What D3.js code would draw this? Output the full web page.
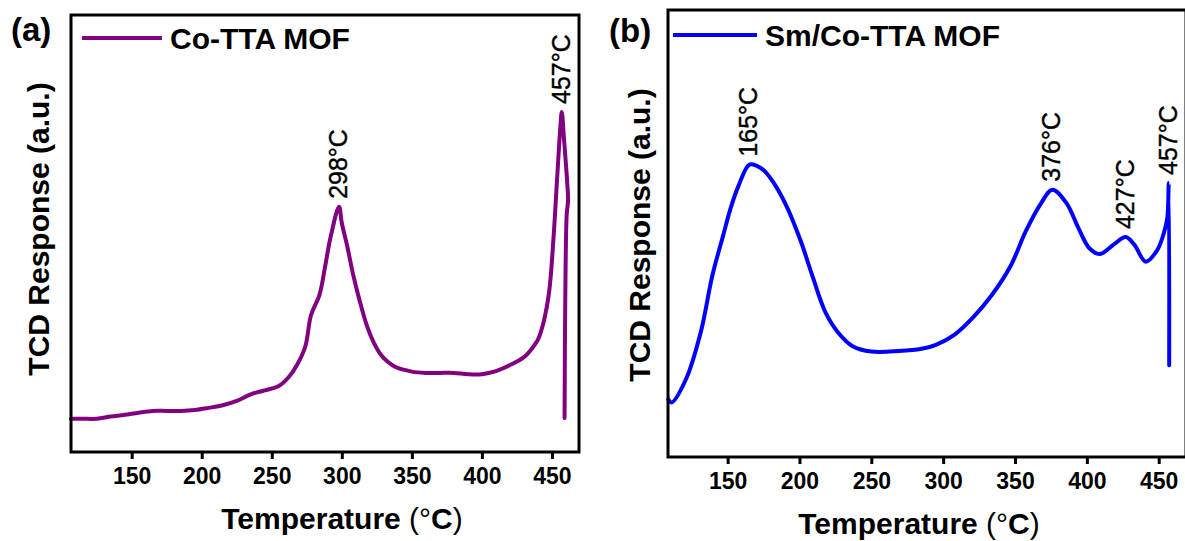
<!DOCTYPE html>
<html>
<head>
<meta charset="utf-8">
<script src="https://cdn.jsdelivr.net/npm/d3@7"></script>
<style>
  html, body { margin: 0; padding: 0; background: #fff; }
  svg { display: block; font-family: "Liberation Sans", Arial, sans-serif; }
</style>
</head>
<body>
<svg id="chart" width="1185" height="541"></svg>
<script>
// H2-TPD profile of Co-TTA MOF: temperature (°C) and TCD response (a.u.)
const tempA = [106.7, 115, 125, 135, 145, 155, 165, 175, 185, 195, 205, 215, 225, 235, 245, 255,
  262, 268, 274, 278, 284, 288, 292, 298, 300, 304, 308, 313, 318, 323, 328, 333, 338,
  350, 360, 370, 380, 390, 400, 410, 420, 430, 436, 440, 444, 448, 451, 454, 456, 457,
  458.5, 460, 461, 461.5, 460.5, 459.5, 459];
const respA = [7.6, 7.6, 7.6, 8.1, 8.5, 9.0, 9.4, 9.4, 9.4, 9.6, 10.1, 10.7, 11.7, 13.2, 14.1, 15.1,
  17.1, 19.9, 24.2, 31.3, 35.9, 42.3, 49.2, 56.1, 52.4, 46.9, 40.7, 34.3, 28.8, 24.9, 22.2, 20.6, 19.5,
  18.4, 18.1, 18.1, 18.1, 17.8, 17.8, 18.5, 19.9, 21.7, 23.8, 25.7, 29.7, 36.7, 48.5, 64.3, 74.4, 77.8,
  72.0, 65.7, 61.1, 57.7, 54.2, 34.8, 7.8];
const peaksA = [298, 457];

// H2-TPD profile of Sm/Co-TTA MOF
const tempB = [108.7, 111, 121, 131.5, 139.3, 147.1, 152.3, 157.5, 165, 170, 175.6, 183.5, 191.3,
  201, 209, 218, 227, 237, 250, 269, 285, 295, 308, 321, 334, 347, 357.6, 368, 376,
  386, 394, 401.8, 409, 418.6, 427, 433, 441, 449, 453.5, 456, 457, 457.3];
const respB = [12.9, 12.2, 17.4, 28.2, 40.5, 49.8, 55.9, 60.6, 65.4, 65.2, 64.0, 60.6, 55.9,
  48.2, 40.5, 32.4, 27.8, 24.8, 23.6, 23.7, 24.2, 25.1, 27.4, 31.3, 36.3, 42.8, 50.6, 56.7, 59.8,
  56.7, 51.3, 46.7, 45.4, 47.5, 49.2, 47.5, 43.7, 46.3, 50.0, 53.5, 61.3, 20.5];
const peaksB = [165, 376, 427, 457];

const xTicks = [150, 200, 250, 300, 350, 400, 450];
const seriesNames = ["Co-TTA MOF", "Sm/Co-TTA MOF"];
const seriesColors = ["#800080", "#0000ff"];
const panelTags = ["(a)", "(b)"];
const xTitleText = "Temperature";
const yTitleText = "TCD Response (a.u.)";

const svg = d3.select("#chart");
svg.append("rect").attr("width", 1185).attr("height", 541).attr("fill", "#fff");

const panels = [
  { temps: tempA, resp: respA, peaks: peaksA, name: seriesNames[0], color: seriesColors[0], tag: panelTags[0],
    xDomain: [106.7, 469.3], left: 71, right: 579, top: 15, bottom: 452,
    tagX: 11, tagY: 41, legY: 38, legX0: 82, legX1: 162, legTextX: 170, legTextY: 49,
    yTitleX: 49, yTitleY: 229, xTitleX: 342, xTitleY: 529 },
  { temps: tempB, resp: respB, peaks: peaksB, name: seriesNames[1], color: seriesColors[1], tag: panelTags[1],
    xDomain: [108.5, 469], left: 668, right: 1186, top: 10, bottom: 457,
    tagX: 609, tagY: 42, legY: 35, legX0: 673, legX1: 757, legTextX: 765, legTextY: 46,
    yTitleX: 650, yTitleY: 235, xTitleX: 919, xTitleY: 534 }
];

panels.forEach(p => {
  const x = d3.scaleLinear().domain(p.xDomain).range([p.left, p.right]);
  const y = d3.scaleLinear().domain([0, 100]).range([p.bottom, p.top]);
  const g = svg.append("g");

  // trace
  const pts = p.temps.map((t, i) => [t, p.resp[i]]);
  const line = d3.line().x(d => x(d[0])).y(d => y(d[1])).curve(d3.curveCatmullRom.alpha(0.5));
  g.append("path").datum(pts).attr("d", line)
    .attr("fill", "none").attr("stroke", p.color).attr("stroke-width", 4)
    .attr("stroke-linejoin", "round").attr("stroke-linecap", "round");

  // bottom axis
  const ax = g.append("g").attr("transform", `translate(0,${p.bottom})`)
    .call(d3.axisBottom(x).tickValues(xTicks).tickFormat(d3.format("d"))
      .tickSize(7).tickSizeOuter(0).tickPadding(9));
  ax.select(".domain").remove();
  ax.selectAll(".tick line").attr("stroke", "#000").attr("stroke-width", 3);
  ax.selectAll(".tick text").attr("fill", "#000")
    .style("font-size", "23px").style("font-weight", "bold")
    .style("font-family", '"Liberation Sans", Arial, sans-serif');

  // frame
  g.append("rect").attr("x", p.left).attr("y", p.top)
    .attr("width", p.right - p.left).attr("height", p.bottom - p.top)
    .attr("fill", "none").attr("stroke", "#000").attr("stroke-width", 3);

  // peak labels
  p.peaks.forEach(t => {
    const i = p.temps.indexOf(t);
    const v = p.resp[i];
    g.append("text")
      .attr("transform", `translate(${x(t) + 8},${y(v) - 8}) rotate(-90)`)
      .attr("text-anchor", "start")
      .style("font-size", "25px").attr("fill", "#000")
      .attr("stroke", "#000").attr("stroke-width", 0.4)
      .text(`${t}°C`);
  });

  // legend
  g.append("line").attr("x1", p.legX0).attr("x2", p.legX1).attr("y1", p.legY).attr("y2", p.legY)
    .attr("stroke", p.color).attr("stroke-width", 4);
  g.append("text").attr("x", p.legTextX).attr("y", p.legTextY)
    .style("font-size", "30px").style("font-weight", "bold").attr("fill", "#000")
    .text(p.name);

  // panel tag
  g.append("text").attr("x", p.tagX).attr("y", p.tagY)
    .style("font-size", "33px").style("font-weight", "bold").attr("fill", "#000")
    .text(p.tag);

  // axis titles
  g.append("text")
    .attr("transform", `translate(${p.yTitleX},${p.yTitleY}) rotate(-90)`)
    .attr("text-anchor", "middle")
    .style("font-size", "30px").style("font-weight", "bold").attr("fill", "#000")
    .text(yTitleText);

  const xt = g.append("text").attr("x", p.xTitleX).attr("y", p.xTitleY)
    .attr("text-anchor", "middle")
    .style("font-size", "30px").style("font-weight", "bold").attr("fill", "#000");
  xt.append("tspan").text(xTitleText + " ");
  xt.append("tspan").style("font-weight", "normal").text("(°");
  xt.append("tspan").text("C");
  xt.append("tspan").style("font-weight", "normal").text(")");
});
</script>
</body>
</html>
